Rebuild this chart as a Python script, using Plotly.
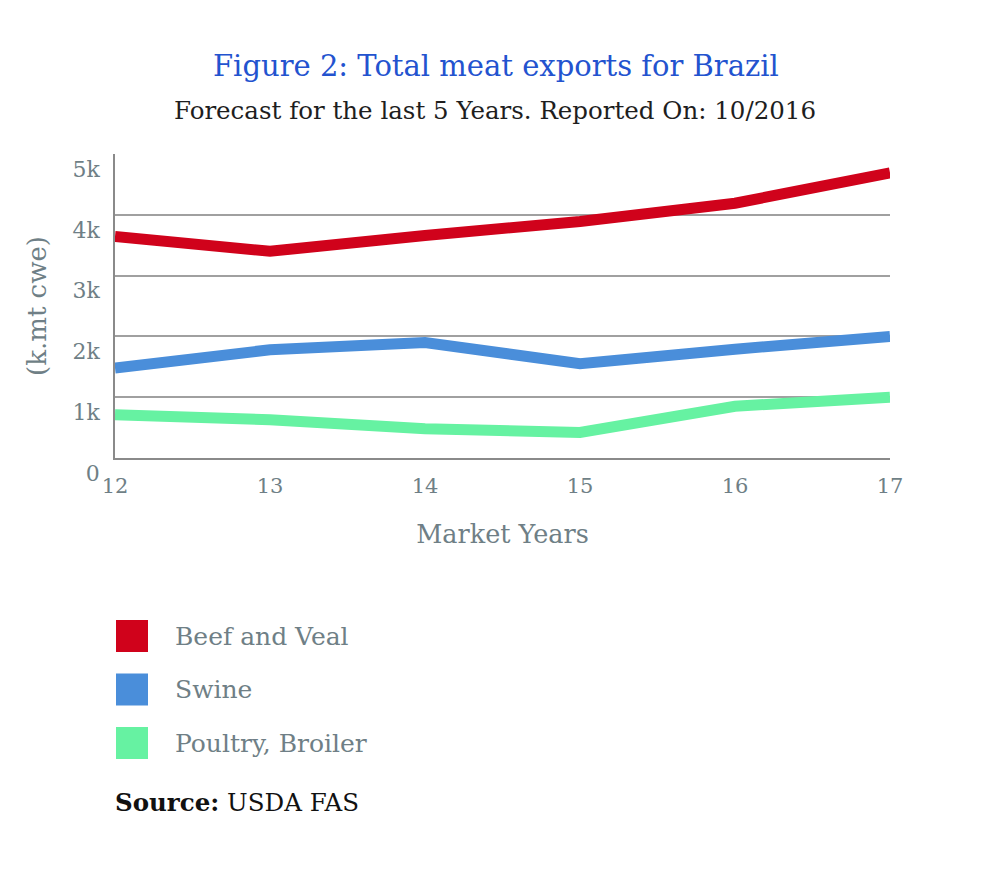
import plotly.graph_objects as go

years = [12, 13, 14, 15, 16, 17]
year_labels = ["12", "13", "14", "15", "16", "17"]
beef_veal = [3645, 3400, 3660, 3890, 4190, 4690]
swine = [1480, 1780, 1900, 1550, 1790, 2000]
poultry = [710, 630, 480, 420, 850, 1000]

series_names = ["Beef and Veal", "Swine", "Poultry, Broiler"]
series_colors = ["#D0021B", "#4A8EDA", "#66F2A2"]
series_values = [beef_veal, swine, poultry]

y_tickvals = [0, 1000, 2000, 3000, 4000, 5000]
y_ticktext = ["0", "1k", "2k", "3k", "4k", "5k"]

FONT = "DejaVu Serif"
GRAY = "#6f7f86"

# page offset (body margin) = 8px
PL, PR, PT, PB = 115, 890, 154, 458
PW, PH = PR - PL, PB - PT


def px(x):
    return (x - PL) / PW


def py(y):
    return (PB - y) / PH


fig = go.Figure()
for name, color, vals in zip(series_names, series_colors, series_values):
    fig.add_trace(go.Scatter(x=years, y=vals, name=name, mode="lines",
                             line=dict(color=color, width=11), showlegend=False))

fig.update_layout(
    width=986, height=878,
    margin=dict(l=PL - 8, r=994 - PR, t=PT - 8, b=886 - PB),
    paper_bgcolor="white", plot_bgcolor="white",
    font=dict(family=FONT, color=GRAY),
    xaxis=dict(range=[12, 17], tickvals=years, ticktext=year_labels,
               showgrid=False, zeroline=False, showline=True,
               linecolor="#8a8a8a", linewidth=1.5, ticks="",
               tickfont=dict(size=21, color=GRAY), ticklabelstandoff=8,
               title=dict(text="Market Years", font=dict(size=25.5, color=GRAY), standoff=28)),
    yaxis=dict(range=[0, 5000], tickvals=y_tickvals, ticktext=y_ticktext,
               showgrid=True, gridcolor="#a0a0a0", gridwidth=1.5,
               zeroline=False, showline=True, linecolor="#8a8a8a", linewidth=1.5,
               ticks="", tickfont=dict(size=22, color=GRAY),
               ticklabelstandoff=9, ticklabelshift=15,
               title=dict(text="(k.mt cwe)", font=dict(size=26, color=GRAY), standoff=18)),
)

fig.add_annotation(text="Figure 2: Total meat exports for Brazil", xref="paper", yref="paper",
                   x=px(496), y=py(66), showarrow=False, xanchor="center", yanchor="middle",
                   font=dict(size=29, color="#2353CF", family=FONT))
fig.add_annotation(text="Forecast for the last 5 Years. Reported On: 10/2016", xref="paper", yref="paper",
                   x=px(495), y=py(110), showarrow=False, xanchor="center", yanchor="middle",
                   font=dict(size=24.5, color="#1e1e1e", family=FONT))

# legend drawn as squares + text
leg_top = 620
for i, (name, color) in enumerate(zip(series_names, series_colors)):
    y0 = leg_top + i * 53.5
    fig.add_shape(type="rect", xref="paper", yref="paper",
                  x0=px(116), x1=px(148), y0=py(y0), y1=py(y0 + 32),
                  fillcolor=color, line=dict(width=0))
    fig.add_annotation(text=name, xref="paper", yref="paper",
                       x=px(173), y=py(y0 + 16),
                       xanchor="left", yanchor="middle", showarrow=False,
                       font=dict(size=25, color=GRAY, family=FONT))

fig.add_annotation(text="<b>Source:</b> USDA FAS", xref="paper", yref="paper",
                   x=px(113), y=py(802),
                   xanchor="left", yanchor="middle", showarrow=False,
                   font=dict(size=24.5, color="#111111", family=FONT))

fig.write_html("out.html")
